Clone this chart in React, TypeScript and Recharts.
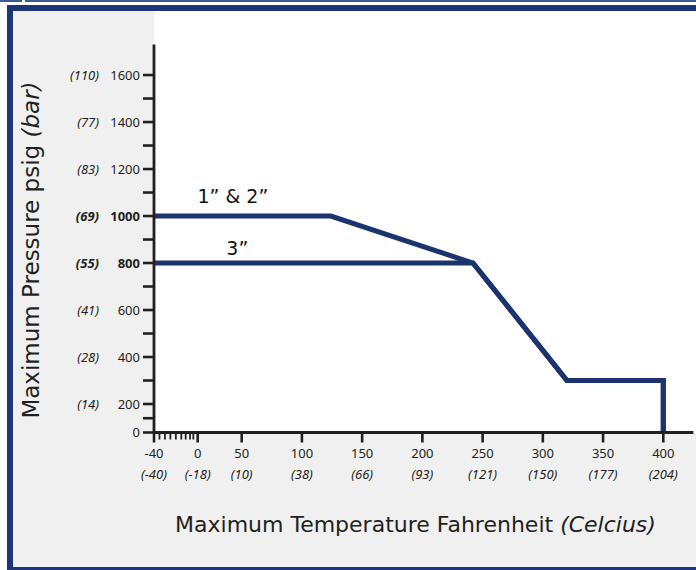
import React from "react";
import { LineChart, Line, XAxis, YAxis, ReferenceDot } from "recharts";

const NAVY = "#1b336f";
const FRAME = "#1d3678";
const INK = "#231f20";
const PANEL = "#eff0ef";
const TICK_FONT = "'Noto Sans', sans-serif";
const TITLE_FONT = "'DejaVu Sans', sans-serif";

// pressure rating curves: temperature (°F) vs max pressure (psig)
const temp12 = [-40, 124, 242, 320, 400, 400];
const psi12 = [1000, 1000, 800, 300, 300, 0];
const temp3 = [-40, 242, 320, 400, 400];
const psi3 = [800, 800, 300, 300, 0];

// axis ticks
const tempMajor = [-40, 0, 50, 100, 150, 200, 250, 300, 350, 400];
const tempCelsius = ["(-40)", "(-18)", "(10)", "(38)", "(66)", "(93)", "(121)", "(150)", "(177)", "(204)"];
const tempMinor = [-35, -30, -25, -20, -15, -11, -7, -4];
const psiMajor = [0, 200, 400, 600, 800, 1000, 1200, 1400, 1600];
const psiBar = ["", "(14)", "(28)", "(41)", "(55)", "(69)", "(83)", "(77)", "(110)"];
const psiMinor = [100, 300, 500, 700, 900, 1100, 1300, 1500];
const psiBold = [800, 1000];

// both axes are squeezed at the low end: breakpoints and the share of axis length per segment
const tempKnots = [-40, 0, 50, 425];
const tempShares = [43.7, 44, 451.7];
const psiKnots = [0, 200, 1730];
const psiShares = [28.5, 359.5];

function piecewiseScale(knots: number[], shares: number[]) {
  const total = shares.reduce((a, b) => a + b, 0);
  const stops = [0];
  shares.forEach((s) => stops.push(stops[stops.length - 1] + s / total));
  let dom = [knots[0], knots[knots.length - 1]];
  let rng = [0, 1];
  const scale: any = (v: number) => {
    let i = 0;
    while (i < knots.length - 2 && v > knots[i + 1]) i++;
    const t = (v - knots[i]) / (knots[i + 1] - knots[i]);
    const f = stops[i] + t * (stops[i + 1] - stops[i]);
    return rng[0] + f * (rng[1] - rng[0]);
  };
  scale.domain = (...args: any[]) => {
    if (!args.length) return dom.slice();
    dom = args[0].slice();
    return scale;
  };
  scale.range = (...args: any[]) => {
    if (!args.length) return rng.slice();
    rng = args[0].slice();
    return scale;
  };
  scale.copy = () => piecewiseScale(knots, shares).domain(dom).range(rng);
  scale.ticks = () => knots.slice();
  scale.invert = (px: number) => {
    const f = (px - rng[0]) / (rng[1] - rng[0]);
    let i = 0;
    while (i < stops.length - 2 && f > stops[i + 1]) i++;
    const t = (f - stops[i]) / (stops[i + 1] - stops[i]);
    return knots[i] + t * (knots[i + 1] - knots[i]);
  };
  return scale;
}

const tempScale = piecewiseScale(tempKnots, tempShares);
const psiScale = piecewiseScale(psiKnots, psiShares);

const curve12 = temp12.map((t, i) => ({ t, p: psi12[i] }));
const curve3 = temp3.map((t, i) => ({ t, p: psi3[i] }));

function TempTick(props: any) {
  const { x, y, payload } = props;
  const idx = tempMajor.indexOf(payload.value);
  const major = idx >= 0;
  return (
    <g>
      <line x1={x} x2={x} y1={y} y2={y + (major ? 10 : 7)} stroke={INK} strokeWidth={major ? 2.6 : 1.8} />
      {major && (
        <>
          <text x={x} y={y + 25.5} textAnchor="middle" fontFamily={TICK_FONT} fontSize={13} fill={INK}>
            {payload.value}
          </text>
          <text x={x} y={y + 46} textAnchor="middle" fontFamily={TICK_FONT} fontSize={13} fontStyle="italic" fill={INK}>
            {tempCelsius[idx]}
          </text>
        </>
      )}
    </g>
  );
}

function PsiTick(props: any) {
  const { x, y, payload } = props;
  const idx = psiMajor.indexOf(payload.value);
  const bold = psiBold.includes(payload.value);
  return (
    <g>
      <line x1={x - 11} x2={x} y1={y} y2={y} stroke={INK} strokeWidth={2.6} />
      {idx >= 0 && (
        <>
          <text x={x - 14} y={y} dy="0.36em" textAnchor="end" fontFamily={TICK_FONT} fontSize={13} fontWeight={bold ? 700 : 400} fill={INK}>
            {payload.value}
          </text>
          <text x={x - 55} y={y} dy="0.36em" textAnchor="end" fontFamily={TICK_FONT} fontSize={13} fontStyle="italic" fontWeight={bold ? 700 : 400} fill={INK}>
            {psiBar[idx]}
          </text>
        </>
      )}
    </g>
  );
}

const renderTempTitle = () => (
  <text x={415.5} y={532} textAnchor="middle" fontFamily={TITLE_FONT} fontSize={22} fill={INK}>
    {"Maximum Temperature Fahrenheit "}
    <tspan fontStyle="italic">(Celcius)</tspan>
  </text>
);

const renderPsiTitle = () => (
  <text x={39} y={250} transform="rotate(-90 39 250)" textAnchor="middle" fontFamily={TITLE_FONT} fontSize={23} fill={INK}>
    {"Maximum Pressure psig "}
    <tspan fontStyle="italic">(bar)</tspan>
  </text>
);

const lineLabel = (value: string, offset: number) => ({
  value,
  position: "top" as const,
  offset,
  fill: "#111",
  fontSize: 19,
  fontFamily: TITLE_FONT,
});

export default function App() {
  return (
    <div style={{ position: "absolute", left: 0, top: 0, width: 696, height: 570, overflow: "hidden", background: "#fff" }}>
      <div style={{ position: "absolute", left: 0, top: 0, width: 696, height: 1.5, background: "#3b5a97" }} />
      <div style={{ position: "absolute", left: 22, top: 0, width: 3, height: 2, background: "#fff" }} />
      <div
        style={{
          position: "absolute",
          left: 7,
          top: 5,
          width: 760,
          height: 568,
          boxSizing: "border-box",
          border: `6px solid ${FRAME}`,
          background: PANEL,
        }}
      />
      <div style={{ position: "absolute", left: 154, top: 11, width: 542, height: 421.5, background: "#fff" }} />
      <div style={{ position: "absolute", left: 0, top: 0 }}>
        <LineChart width={696} height={570} margin={{ top: 44.5, right: 2.6, bottom: 0, left: 0 }}>
          <XAxis
            type="number"
            dataKey="t"
            domain={[-40, 425]}
            scale={tempScale}
            ticks={[...tempMajor, ...tempMinor]}
            interval={0}
            tick={(p: any) => <TempTick {...p} />}
            tickLine={false}
            tickSize={0}
            tickMargin={0}
            axisLine={{ stroke: INK, strokeWidth: 2.8 }}
            height={137.5}
            label={{ content: renderTempTitle }}
          />
          <YAxis
            type="number"
            dataKey="p"
            domain={[0, 1730]}
            scale={psiScale}
            ticks={[...psiMajor, ...psiMinor]}
            interval={0}
            tick={(p: any) => <PsiTick {...p} />}
            tickLine={false}
            tickSize={0}
            tickMargin={0}
            axisLine={{ stroke: INK, strokeWidth: 2.8 }}
            width={154}
            label={{ content: renderPsiTitle }}
          />
          <Line
            data={curve3}
            dataKey="p"
            type="linear"
            stroke={NAVY}
            strokeWidth={5}
            strokeLinejoin="miter"
            dot={false}
            isAnimationActive={false}
          />
          <Line
            data={curve12}
            dataKey="p"
            type="linear"
            stroke={NAVY}
            strokeWidth={5}
            strokeLinejoin="miter"
            dot={false}
            isAnimationActive={false}
          />
          <ReferenceDot x={40} y={1000} r={0} fill="none" stroke="none" label={lineLabel("1” & 2”", 13)} />
          <ReferenceDot x={45} y={800} r={0} fill="none" stroke="none" label={lineLabel("3”", 8)} />
        </LineChart>
      </div>
    </div>
  );
}
